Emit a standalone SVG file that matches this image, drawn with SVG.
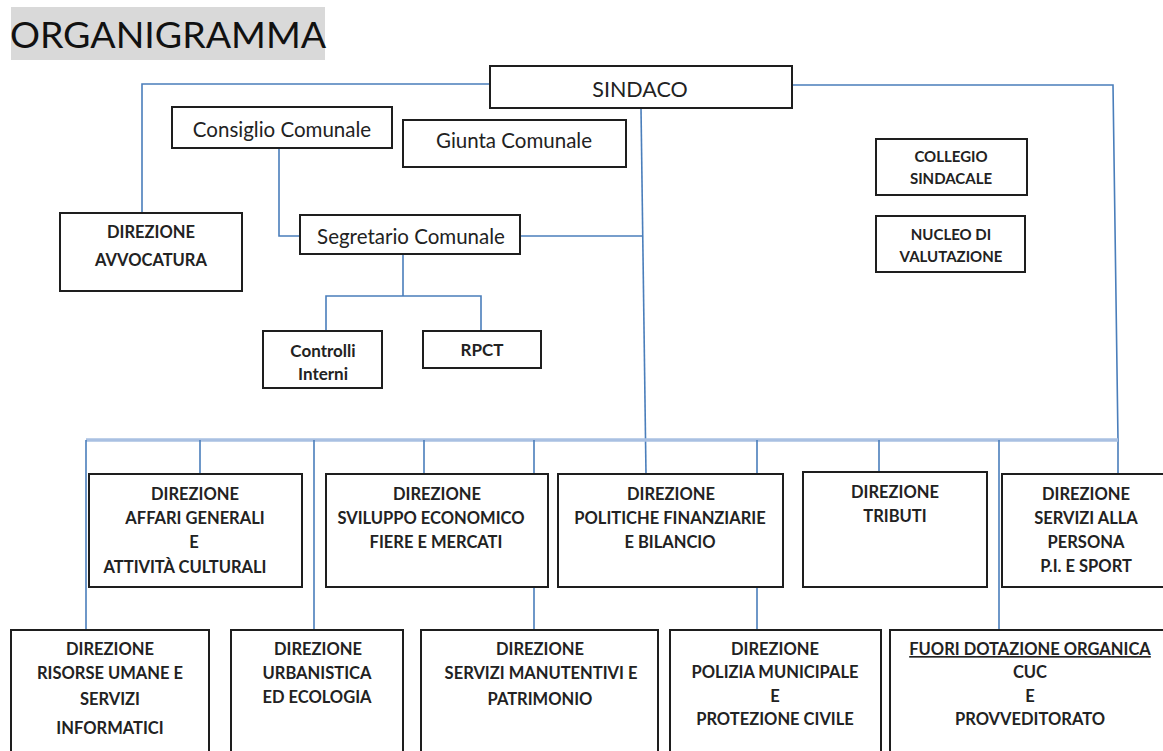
<svg xmlns="http://www.w3.org/2000/svg" width="1163" height="751" viewBox="0 0 1163 751">
<defs>
<style>
.box{fill:#fff;stroke:#1e1e1e;stroke-width:2}
.ln{fill:none;stroke:#4a7ebb;stroke-width:1.6}
.bus{fill:none;stroke:#a9c0e2;stroke-width:3.5}
.t{font-family:Lato,"Open Sans",sans-serif;fill:#222;text-anchor:middle}
.b{font-weight:700;font-size:16.5px}
.r{font-weight:400;font-size:20.5px}
.s{font-weight:700;font-size:15px}
</style>
</defs>
<rect x="0" y="0" width="1163" height="751" fill="#fff"/>
<g id="title">
<rect x="11" y="7" width="314" height="53" fill="#d9d9d9"/>
<text x="168" y="48" class="t" style="font-size:37.5px;font-weight:400;fill:#111">ORGANIGRAMMA</text>
</g>
<g id="connectors">
<polyline class="ln" points="142,212 142,84 490,84"/>
<polyline class="ln" points="792,85 1113,85 1118,440 1118,474"/>
<polyline class="ln" points="641,108 646,474"/>
<polyline class="ln" points="520,236 643,236"/>
<polyline class="ln" points="279,148 279,236 300,236"/>
<polyline class="ln" points="403,254 403,296"/>
<polyline class="ln" points="326,331 326,296 481,296 481,331"/>
<polyline class="bus" points="86,440 1118,440"/>
<polyline class="ln" points="86,440 86,630"/>
<polyline class="ln" points="200,440 200,474"/>
<polyline class="ln" points="314,440 314,630"/>
<polyline class="ln" points="424,440 424,474"/>
<polyline class="ln" points="534,440 534,474"/>
<polyline class="ln" points="534,587 534,630"/>
<polyline class="ln" points="757,440 757,474"/>
<polyline class="ln" points="757,587 757,630"/>
<polyline class="ln" points="879,440 879,472"/>
<polyline class="ln" points="999,440 999,630"/>
</g>
<g id="sindaco"><rect class="box" x="490" y="66" width="302" height="42"/><text class="t" x="640" y="97" style="font-size:21.5px">SINDACO</text></g>
<g id="consiglio"><rect class="box" x="172" y="107" width="220" height="41"/><text class="t r" x="282" y="137">Consiglio Comunale</text></g>
<g id="giunta"><rect class="box" x="403" y="120" width="223" height="47"/><text class="t r" x="514" y="148">Giunta Comunale</text></g>
<g id="avvocatura"><rect class="box" x="60" y="213" width="182" height="78"/><text class="t b" x="151" y="238">DIREZIONE</text><text class="t b" x="151" y="266">AVVOCATURA</text></g>
<g id="segretario"><rect class="box" x="300" y="215" width="220" height="39"/><text class="t r" x="411" y="244">Segretario Comunale</text></g>
<g id="controlli"><rect class="box" x="263" y="331" width="119" height="57"/><text class="t" x="323" y="357" style="font-size:17px;font-weight:700">Controlli</text><text class="t" x="323" y="380" style="font-size:17px;font-weight:700">Interni</text></g>
<g id="rpct"><rect class="box" x="423" y="331" width="118" height="37"/><text class="t" x="482" y="356" style="font-size:17px;font-weight:700">RPCT</text></g>
<g id="collegio"><rect class="box" x="876" y="139" width="151" height="56"/><text class="t s" x="951" y="162">COLLEGIO</text><text class="t s" x="951" y="184">SINDACALE</text></g>
<g id="nucleo"><rect class="box" x="876" y="216" width="149" height="56"/><text class="t s" x="951" y="240">NUCLEO DI</text><text class="t s" x="951" y="262">VALUTAZIONE</text></g>
<g id="affari"><rect class="box" x="89" y="474" width="213" height="113"/><text class="t b" x="195" y="500">DIREZIONE</text><text class="t b" x="195" y="524">AFFARI GENERALI</text><text class="t b" x="194" y="548">E</text><text class="t b" x="185" y="573">ATTIVITÀ CULTURALI</text></g>
<g id="sviluppo"><rect class="box" x="326" y="474" width="222" height="113"/><text class="t b" x="437" y="500">DIREZIONE</text><text class="t b" x="431" y="524">SVILUPPO ECONOMICO</text><text class="t b" x="436" y="548">FIERE E MERCATI</text></g>
<g id="politiche"><rect class="box" x="558" y="474" width="225" height="113"/><text class="t b" x="671" y="500">DIREZIONE</text><text class="t b" x="670" y="524">POLITICHE FINANZIARIE</text><text class="t b" x="670" y="548">E BILANCIO</text></g>
<g id="tributi"><rect class="box" x="803" y="472" width="184" height="115"/><text class="t b" x="895" y="498">DIREZIONE</text><text class="t b" x="895" y="522">TRIBUTI</text></g>
<g id="servizi"><rect class="box" x="1002" y="474" width="170" height="113"/><text class="t b" x="1086" y="500">DIREZIONE</text><text class="t b" x="1086" y="524">SERVIZI ALLA</text><text class="t b" x="1086" y="548">PERSONA</text><text class="t b" x="1086" y="572">P.I. E SPORT</text></g>
<g id="risorse"><rect class="box" x="11" y="630" width="198" height="130"/><text class="t b" x="110" y="655">DIREZIONE</text><text class="t b" x="110" y="679">RISORSE UMANE E</text><text class="t b" x="110" y="705">SERVIZI</text><text class="t b" x="110" y="734">INFORMATICI</text></g>
<g id="urbanistica"><rect class="box" x="231" y="630" width="172" height="130"/><text class="t b" x="318" y="655">DIREZIONE</text><text class="t b" x="317" y="679">URBANISTICA</text><text class="t b" x="317" y="703">ED ECOLOGIA</text></g>
<g id="manutentivi"><rect class="box" x="421" y="630" width="237" height="130"/><text class="t b" x="540" y="655">DIREZIONE</text><text class="t b" x="541" y="679">SERVIZI MANUTENTIVI E</text><text class="t b" x="540" y="705">PATRIMONIO</text></g>
<g id="polizia"><rect class="box" x="670" y="630" width="211" height="130"/><text class="t b" x="775" y="655">DIREZIONE</text><text class="t b" x="775" y="678">POLIZIA MUNICIPALE</text><text class="t b" x="775" y="702">E</text><text class="t b" x="775" y="725">PROTEZIONE CIVILE</text></g>
<g id="fuori"><rect class="box" x="890" y="630" width="290" height="130"/><text class="t b" x="1030" y="655" text-decoration="underline">FUORI DOTAZIONE ORGANICA</text><text class="t b" x="1030" y="678">CUC</text><text class="t b" x="1030" y="702">E</text><text class="t b" x="1030" y="725">PROVVEDITORATO</text></g>
</svg>
